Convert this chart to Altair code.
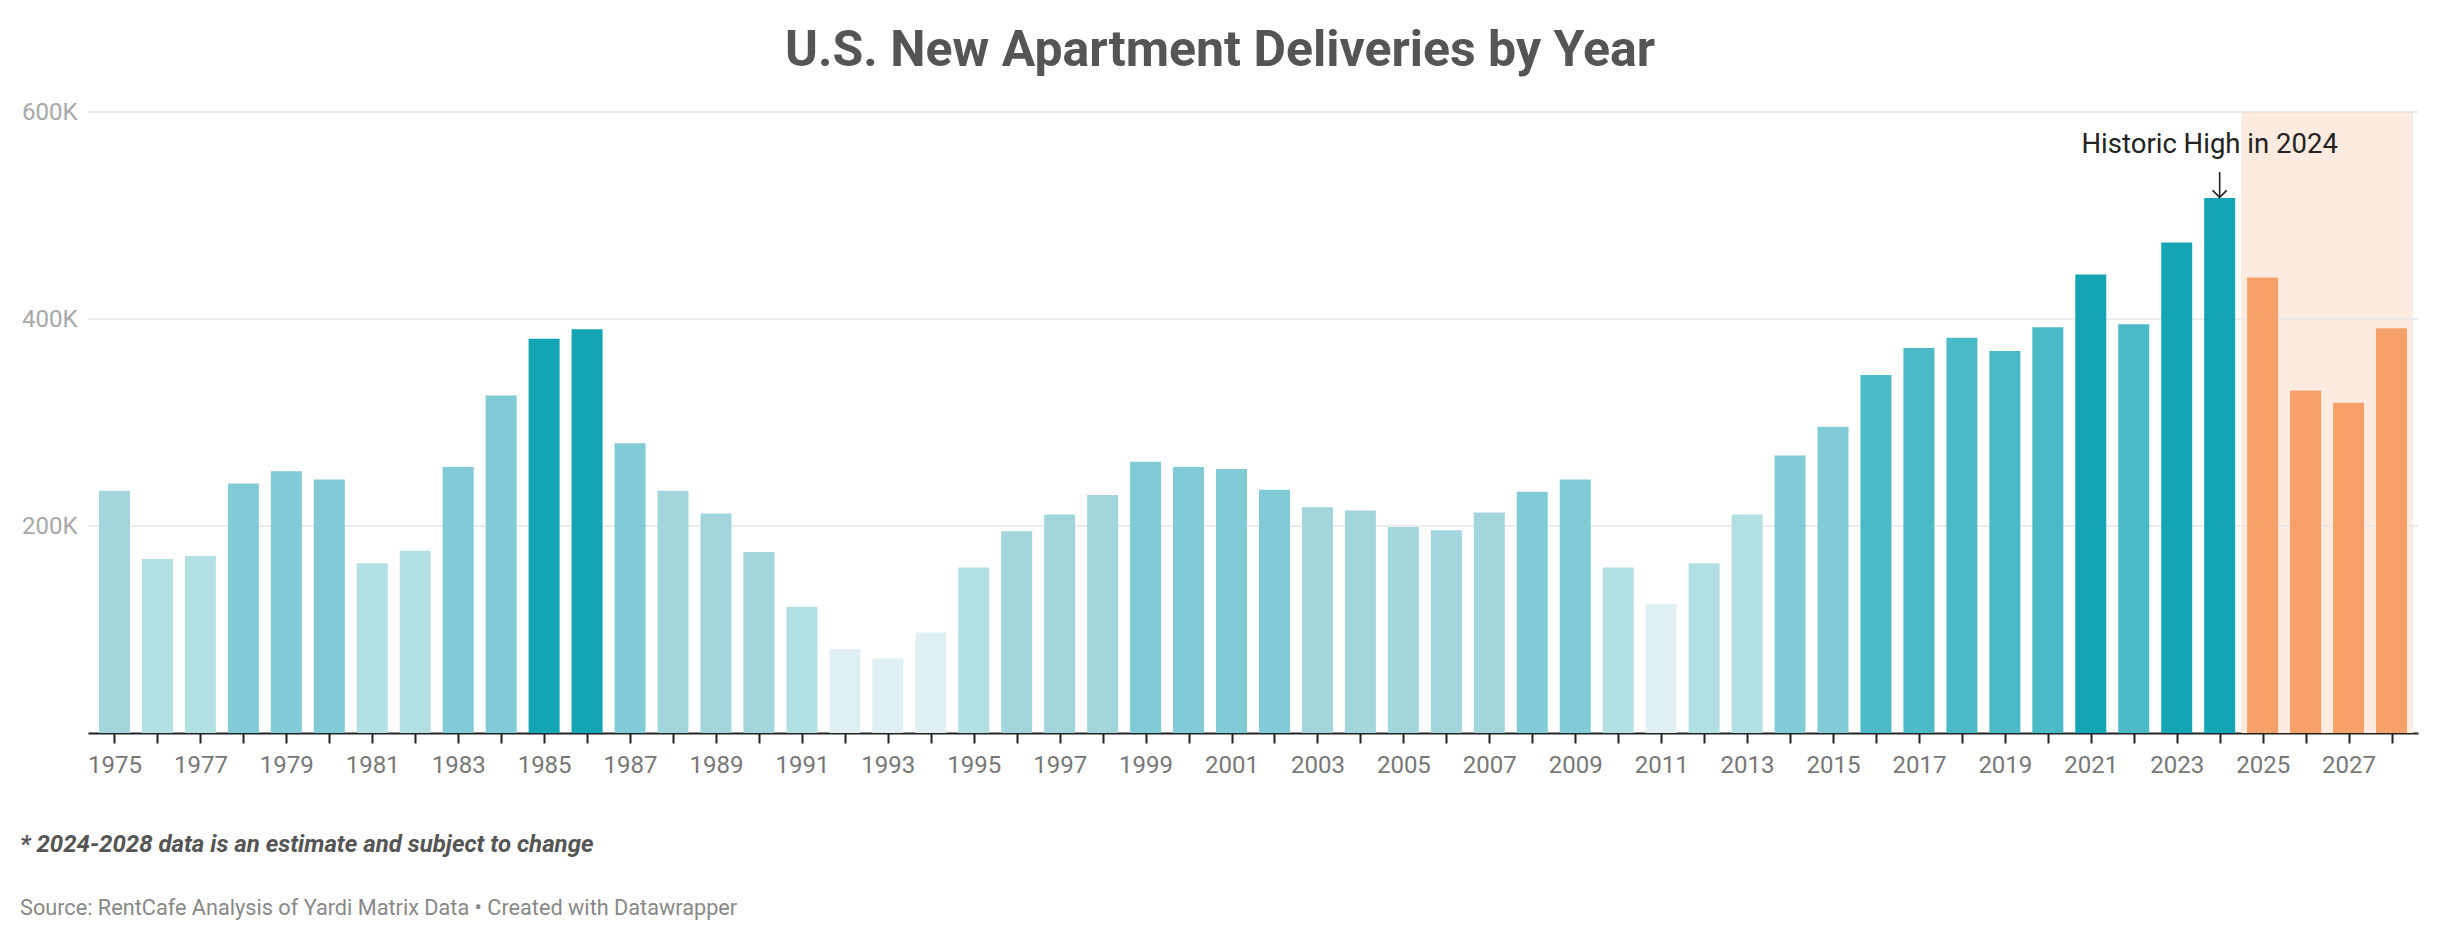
import altair as alt
import pandas as pd

years = list(range(1975, 2029))
deliveries = [
    234000, 168000, 171000, 241000, 253000, 245000, 164000, 176000, 257000, 326000,
    381000, 390000, 280000, 234000, 212000, 175000, 122000, 81000, 72000, 97000,
    160000, 195000, 211000, 230000, 262000, 257000, 255000, 235000, 218000, 215000,
    199000, 196000, 213000, 233000, 245000, 160000, 125000, 164000, 211000, 268000,
    296000, 346000, 372000, 382000, 369000, 392000, 443000, 395000, 474000, 517000,
    440000, 331000, 319000, 391000,
]
tiers = [
    "T2", "T1", "T1", "T3", "T3", "T3", "T1", "T1", "T3", "T3",
    "T5", "T5", "T3", "T2", "T2", "T2", "T1", "T0", "T0", "T0",
    "T1", "T2", "T2", "T2", "T3", "T3", "T3", "T3", "T2", "T2",
    "T2", "T2", "T2", "T3", "T3", "T1", "T0", "T1", "T1", "T3",
    "T3", "T4", "T4", "T4", "T4", "T4", "T5", "T4", "T5", "T5",
    "EST", "EST", "EST", "EST",
]
tier_names = ["T0", "T1", "T2", "T3", "T4", "T5", "EST"]
tier_colors = ["#dff0f3", "#b2e0e2", "#a3d6dc", "#80cbd5", "#4bbac7", "#13a5b3", "#f4a068"]
y_ticks = [0, 200000, 400000, 600000]
estimate_span = [2024.5, 2028.5]

title_text = "U.S. New Apartment Deliveries by Year"
annotation_text = "Historic High in 2024"
annotation_year = 2024
annotation_text_y = 568000
arrow_top = 542000
arrow_bottom = 517500
footnote = "* 2024-2028 data is an estimate and subject to change"
source = "Source: RentCafe Analysis of Yardi Matrix Data \u2022 Created with Datawrapper"

df = pd.DataFrame({"year": years, "value": deliveries, "tier": tiers})

FONT = "Roboto"
W, H = 2330, 621

xscale = alt.Scale(domain=[1974.5, 2028.5], nice=False, zero=False)
yscale = alt.Scale(domain=[0, 600000], nice=False, zero=True)

x_axis = alt.Axis(
    values=years, format="d",
    labelExpr="datum.value % 2 == 1 ? datum.label : ''",
    title=None, grid=False, domainColor="#222222", domainWidth=2,
    tickColor="#222222", tickWidth=2, tickSize=10,
    labelColor="#777777", labelFontSize=24, labelFont=FONT, labelPadding=10,
    labelOverlap=False, labelFlush=False,
)
y_axis = alt.Axis(
    values=y_ticks, title=None, grid=False, domain=False, ticks=False,
    labelExpr="datum.value == 0 ? '' : format(datum.value / 1000, 'd') + 'K'",
    labelColor="#a8a8a8", labelFontSize=24, labelFont=FONT, labelPadding=11,
)


def X(field):
    return alt.X(field, scale=xscale, axis=x_axis)


def Y(field):
    return alt.Y(field, scale=yscale, axis=y_axis)


bg = alt.Chart(pd.DataFrame({"x0": [estimate_span[0]], "x1": [estimate_span[1]],
                             "y0": [0], "y1": [600000]})).mark_rect(color="#fdebe0").encode(
    x=X("x0:Q"), x2="x1:Q", y=Y("y0:Q"), y2="y1:Q",
)

grid = alt.Chart(pd.DataFrame({"t": y_ticks[1:]})).mark_rule(color="#e6e6e6", strokeWidth=1.5).encode(
    y=Y("t:Q")
)

bars = alt.Chart(df).mark_bar(size=31).encode(
    x=X("year:Q"),
    y=Y("value:Q"),
    color=alt.Color("tier:N", scale=alt.Scale(domain=tier_names, range=tier_colors), legend=None),
)

ann_df = pd.DataFrame({"year": [annotation_year], "ty": [annotation_text_y],
                       "a0": [arrow_top], "a1": [arrow_bottom], "label": [annotation_text]})
arrow = alt.Chart(ann_df).mark_rule(color="#222222", strokeWidth=1.6).encode(
    x=X("year:Q"), y=Y("a0:Q"), y2="a1:Q"
)
head = alt.Chart(ann_df).mark_point(
    shape="M-1,-1L0,0L1,-1", filled=False, color="#222222", strokeWidth=1.6, size=200, opacity=1
).encode(x=X("year:Q"), y=Y("a1:Q"))
ann_text = alt.Chart(ann_df).mark_text(
    font=FONT, fontSize=27.5, color="#222222", align="center", baseline="middle", dx=-10
).encode(x=X("year:Q"), y=Y("ty:Q"), text="label:N")

foot = alt.Chart(pd.DataFrame({"t": [footnote]})).mark_text(
    font=FONT, fontSize=24, fontWeight="bold", fontStyle="italic", color="#555555",
    align="left", baseline="middle"
).encode(x=alt.value(-68), y=alt.value(733), text="t:N")

src = alt.Chart(pd.DataFrame({"t": [source]})).mark_text(
    font=FONT, fontSize=21.7, color="#888888", align="left", baseline="middle"
).encode(x=alt.value(-68), y=alt.value(796), text="t:N")

chart = alt.layer(bg, grid, bars, arrow, head, ann_text, foot, src).properties(
    width=W, height=H,
    title=alt.Title(title_text, font=FONT, fontSize=50, fontWeight="bold", color="#555555",
                    anchor="middle", dx=-33, offset=24),
    autosize=alt.AutoSizeParams(type="none"),
    padding={"left": 80, "top": 104, "right": 10, "bottom": 190},
).configure(font=FONT).configure_view(strokeWidth=0, stroke="transparent")

chart.save("out.html", embed_options={"renderer": "svg", "actions": False})
